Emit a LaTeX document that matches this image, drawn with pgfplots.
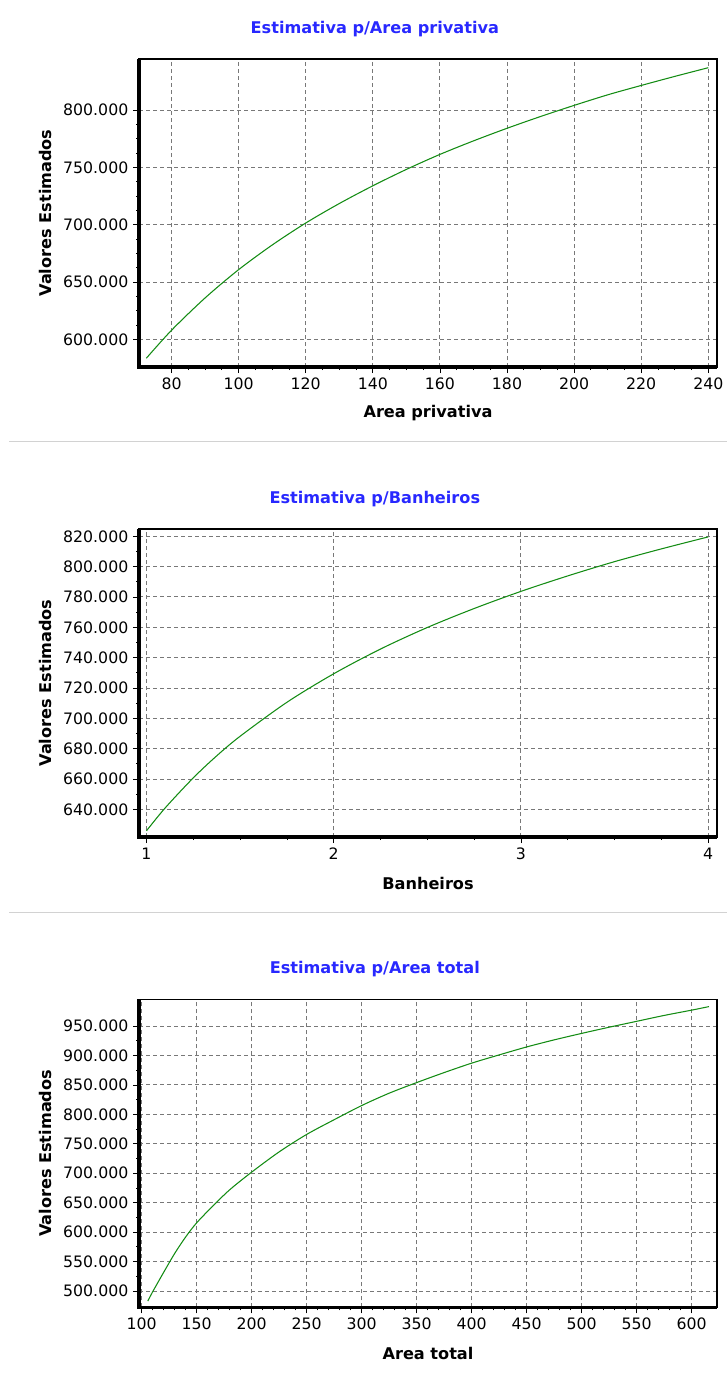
\documentclass[border=0pt]{standalone}
\usepackage{pgfplots}
\pgfplotsset{compat=1.18}
\usepackage{fontspec}
\setmainfont{DejaVu Sans}
\definecolor{curve}{RGB}{20,140,20}
\definecolor{ttl}{RGB}{40,40,255}
\definecolor{gridc}{RGB}{120,120,120}
\definecolor{sepc}{RGB}{210,210,210}
\pgfplotsset{
 panel/.style={
  scale only axis, width=433.5pt, height=231pt,
  anchor=south west,
  axis line style={line width=0.9pt, black},
  tick align=outside, tick pos=left,
  major tick length=4.5pt, minor tick length=2.25pt,
  every tick/.style={black, line width=0.6pt},
  grid=major,
  major grid style={gridc, line width=0.75pt, dash pattern=on 3pt off 2.25pt},
  ticklabel style={font=\fontsize{11.8}{14}\selectfont},
  /pgf/number format/assume math mode=true,
  scaled y ticks=false,
  yticklabel style={/pgf/number format/fixed, /pgf/number format/1000 sep={.}},
  title style={at={(axis description cs:0.408,1.0714)}, anchor=center, font=\fontsize{12.1}{14}\selectfont\bfseries, text=ttl},
  xlabel style={at={(axis description cs:0.5,-0.1494)}, anchor=center, font=\fontsize{12.1}{14}\selectfont\bfseries},
  ylabel style={at={(axis description cs:-0.1626,0.5)}, anchor=center, font=\fontsize{12.1}{14}\selectfont\bfseries},
  ylabel={Valores Estimados},
 },
 curvestyle/.style={curve, line width=0.8pt, no marks, smooth},
}
\begin{document}
\begin{tikzpicture}
\useasboundingbox (0,0) rectangle (545.25pt,-1032.75pt);
\draw[sepc, line width=0.75pt] (6.75pt,-331.3pt) -- (545.25pt,-331.3pt);
\draw[sepc, line width=0.75pt] (6.75pt,-684.5pt) -- (545.25pt,-684.5pt);

\begin{axis}[panel, name=p1, at={(104.25pt,-275.25pt)},
  title={Estimativa p/Area privativa}, xlabel={Area privativa},
  xmin=70.3, xmax=242.6, ymin=575800, ymax=844700,
  xtick={80,100,...,240}, ytick={600000,650000,700000,750000,800000},
  minor x tick num=3, minor y tick num=3]
\addplot[curvestyle] coordinates {
(72.5,583500) (80,607900) (90,636100) (100,660800) (110,682300) (120,701500)
(130,718500) (140,734000) (150,748300) (160,761400) (170,773200) (180,784200)
(190,794500) (200,804200) (210,813400) (220,821600) (230,829500) (240,837100)};
\end{axis}

\begin{axis}[panel, name=p2, at={(104.25pt,-627.75pt)},
  title={Estimativa p/Banheiros}, xlabel={Banheiros},
  xmin=0.96, xmax=4.047, ymin=621800, ymax=824800,
  xtick={1,2,3,4}, ytick={640000,660000,...,820000},
  minor x tick num=3, minor y tick num=1]
\addplot[curvestyle] coordinates {
(1,625900) (1.1,641000) (1.25,660800) (1.375,675300) (1.5,688200) (1.75,710600)
(2,729400) (2.25,745700) (2.5,759900) (2.75,772400) (3,783700) (3.25,793900)
(3.5,803300) (3.75,811700) (4,819600)};
\end{axis}

\begin{axis}[panel, name=p3, at={(104.25pt,-980.5pt)},
  title={Estimativa p/Area total}, xlabel={Area total},
  xmin=97.5, xmax=623, ymin=472300, ymax=995300,
  xtick={100,150,...,600}, ytick={500000,550000,...,950000},
  minor x tick num=4, minor y tick num=1]
\addplot[curvestyle] coordinates {
(105.5,483000) (110,499000) (120,532000) (130,564000) (140,592000) (150,616000)
(165,645000) (180,672000) (200,702000) (225,736400) (250,766000)
(275,791000) (300,815000) (325,836000) (350,854000) (375,871000) (400,887000)
(425,901000) (450,914500) (475,926500) (500,937500) (525,948000) (550,958000)
(575,968000) (600,977000) (615.7,983000)};
\end{axis}

\foreach \p in {p1,p2,p3}{
  \draw[line width=2.4pt, black, line join=miter] (\p.north west) -- (\p.south west) -- (\p.south east);
}
\end{tikzpicture}
\end{document}
